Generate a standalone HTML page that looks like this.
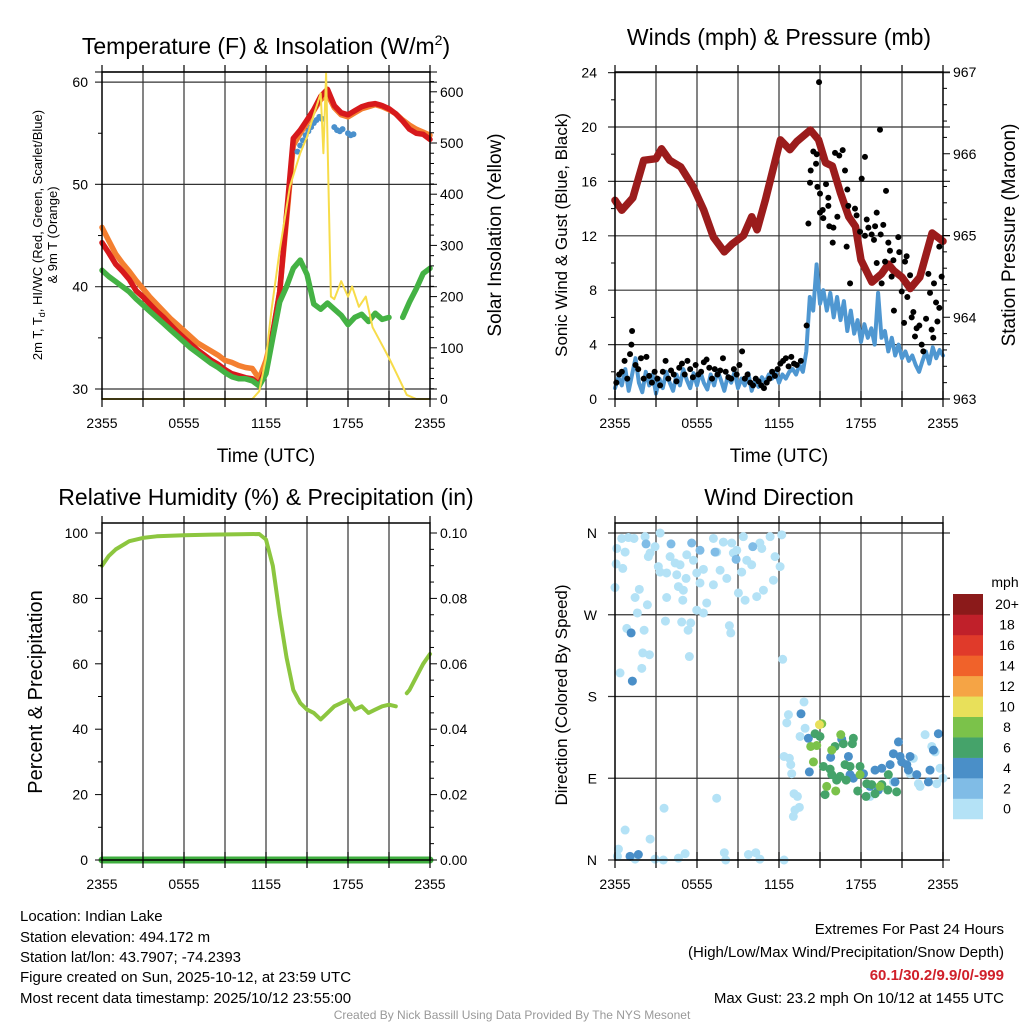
<!DOCTYPE html>
<html><head><meta charset="utf-8"><style>
html,body{margin:0;padding:0;background:#fff;}
svg{display:block;font-family:"Liberation Sans",Arial,sans-serif;}
</style></head><body>
<svg id="chart" width="1024" height="1024" viewBox="0 0 1024 1024" xmlns="http://www.w3.org/2000/svg">
<rect width="1024" height="1024" fill="#fff"/>
<g id="bg"></g>
<g id="marks"></g>
<g id="fg"></g>
<g font-size="23" text-anchor="middle" fill="#000">
<text x="266" y="54">Temperature (F) &amp; Insolation (W/m<tspan font-size="14" dy="-9">2</tspan><tspan dy="9">)</tspan></text>
<text x="779" y="45">Winds (mph) &amp; Pressure (mb)</text>
<text x="266" y="505">Relative Humidity (%) &amp; Precipitation (in)</text>
<text x="779" y="505">Wind Direction</text>
</g>
<g font-size="19" text-anchor="middle">
<text x="266" y="462">Time (UTC)</text>
<text x="779" y="462">Time (UTC)</text>
<text transform="translate(501,235) rotate(-90)">Solar Insolation (Yellow)</text>
<text transform="translate(1015,235) rotate(-90)">Station Pressure (Maroon)</text>
<text font-size="20" transform="translate(42,692) rotate(-90)">Percent &amp; Precipitation</text>
<text font-size="17" transform="translate(567,695) rotate(-90)">Direction (Colored By Speed)</text>
<text font-size="17" transform="translate(567,235) rotate(-90)">Sonic Wind &amp; Gust (Blue, Black)</text>
<text font-size="13" transform="translate(42,235) rotate(-90)">2m T, T<tspan font-size="9" dy="3">d</tspan><tspan dy="-3">, HI/WC (Red, Green, Scarlet/Blue)</tspan></text>
<text font-size="13" transform="translate(57,235) rotate(-90)">&amp; 9m T (Orange)</text>
</g>
<g font-size="15" fill="#000">
<text x="20" y="921">Location: Indian Lake</text>
<text x="20" y="942">Station elevation: 494.172 m</text>
<text x="20" y="962">Station lat/lon: 43.7907; -74.2393</text>
<text x="20" y="982">Figure created on Sun, 2025-10-12, at 23:59 UTC</text>
<text x="20" y="1003">Most recent data timestamp: 2025/10/12 23:55:00</text>
<g text-anchor="end">
<text x="1004" y="934">Extremes For Past 24 Hours</text>
<text x="1004" y="957">(High/Low/Max Wind/Precipitation/Snow Depth)</text>
<text x="1004" y="980" fill="#d0202a" font-weight="bold">60.1/30.2/9.9/0/-999</text>
<text x="1004" y="1003">Max Gust: 23.2 mph On 10/12 at 1455 UTC</text>
</g>
<text x="512" y="1019" font-size="12" fill="#999" text-anchor="middle">Created By Nick Bassill Using Data Provided By The NYS Mesonet</text>
</g>
</svg>
<script>
// ---------- data ----------
const timeLabels = ["2355","0555","1155","1755","2355"];
const tempTimes = [0,0.5,1,1.5,2,2.5,3,3.5,4,4.5,5,5.5,6,6.5,7,7.5,8,8.5,9,9.5,10,10.5,11,11.5,12,12.5,13,13.5,14,14.5,15,15.5,16,16.5,17,17.5,18,18.5,19,19.5,20,20.5,21,21.5,22,22.5,23,23.5,24];
const tempRed = [44.3,43.3,42.2,41.5,40.7,39.6,39.0,38.3,37.6,37.0,36.3,35.6,35.0,34.4,33.8,33.3,32.8,32.4,31.9,31.5,31.3,31.1,31.0,30.4,32.0,35.5,39.5,47.0,54.5,55.3,56.3,57.3,58.6,59.3,57.7,57.0,56.8,57.2,57.6,57.8,57.9,57.7,57.4,56.9,56.2,55.4,55.0,54.9,54.4];
const tempOrange = [45.8,44.5,43.2,42.3,41.5,40.6,39.8,39.0,38.3,37.6,36.9,36.3,35.7,35.1,34.5,34.1,33.7,33.3,32.8,32.6,32.3,32.1,32.0,31.0,32.8,35.5,39.5,46.5,53.8,55.0,56.0,57.2,58.3,58.8,57.5,56.8,56.6,57.0,57.4,57.6,57.8,57.6,57.3,56.9,56.3,55.8,55.4,55.1,54.8];
const dewGreen = [41.6,41.0,40.5,40.0,39.5,38.8,38.2,37.6,37.0,36.4,35.8,35.2,34.6,34.0,33.5,33.0,32.5,32.1,31.6,31.2,31.0,31.0,30.8,30.3,31.5,35.0,38.5,40.0,41.8,42.6,41.2,38.3,37.8,38.4,37.8,37.2,36.3,37.0,37.3,36.6,37.4,36.8,37.0,null,37.0,38.5,39.8,41.3,41.8];
const hiwcTimes = [14.3,14.5,14.7,14.9,15.1,15.3,15.5,15.7,15.9,16.1,17.0,17.2,17.4,17.6,18.0,18.2,18.4];
const hiwcBlue = [53.2,53.8,54.3,54.8,55.2,55.6,56.0,56.3,56.6,56.4,55.6,55.3,55.2,55.4,55.0,54.8,54.9];
const solarTimes = [0,11,11.5,12,12.4,13,13.75,14.5,15,15.5,16,16.2,16.4,16.6,16.75,17,17.5,18,18.3,18.8,19.3,19.8,20.5,21,21.5,22.3,23,24];
const solarVals = [0,0,15,80,174,290,415,480,512,555,597,480,636,377,200,195,230,200,220,180,200,140,105,80,53,8,0,0];
const windTimes = [];
for (let i = 0; i <= 96; i++) windTimes.push(i * 0.25);
const windMean = [0.8,1.6,1.0,2.2,0.6,1.8,3.0,1.2,0.5,2.0,1.0,1.8,
 0.4,1.5,0.8,2.0,1.2,0.6,1.8,1.0,2.2,1.4,0.8,1.9,
 1.0,2.0,1.2,0.7,1.8,1.0,2.1,1.4,0.6,1.7,1.2,2.0,
 0.8,1.5,1.0,1.9,0.6,1.4,0.9,1.6,1.2,1.8,1.5,2.0,
 1.2,1.8,1.5,2.0,2.2,1.8,2.5,2.0,
 3.5,7.5,6.5,9.9,7.0,8.0,6.5,7.8,
 6.0,7.5,5.8,7.2,5.0,6.5,4.8,5.8,
 4.2,5.5,4.5,5.2,4.0,7.8,4.5,5.0,
 3.5,4.5,3.2,4.0,3.0,3.5,2.8,3.2,
 2.5,2.0,2.8,3.5,2.6,3.8,3.0,3.6,3.2];
const gustTimes = [0.1,0.3,0.5,0.7,0.9,1.1,1.2,1.25,1.5,1.7,1.9,2.1,2.3,2.5,2.7,2.9,3.1,3.3,3.5,3.7,3.9,4.1,4.3,4.5,4.7,4.9,5.1,5.3,5.5,5.7,5.9,6.1,6.3,6.5,6.7,6.9,7.1,7.3,7.5,7.7,7.9,8.1,8.3,8.5,8.7,8.9,9.1,9.3,9.5,9.7,9.9,10.1,10.3,10.5,10.7,10.9,11.1,11.3,11.5,11.7,11.9,12.1,12.3,12.5,12.7,12.9,13.1,13.3,13.6,
 14.02,14.15,14.27,14.32,14.51,14.71,14.76,14.81,14.93,15.0,15.0,15.2,15.24,15.44,15.61,15.61,15.68,15.93,15.98,16.1,16.27,16.41,16.66,16.83,16.95,17.0,17.07,17.2,17.56,17.68,17.93,18.05,18.29,18.29,18.42,18.54,18.78,18.95,19.03,19.15,19.15,19.39,19.44,19.51,19.63,19.76,19.83,20.0,20.12,20.24,20.37,20.41,20.73,20.8,20.98,21.15,21.22,21.34,21.39,21.59,21.71,21.83,21.95,22.07,22.27,22.44,22.56,22.76,22.93,23.05,23.17,23.29,23.34,23.49,23.59,23.73,23.73,23.9];
const gustVals = [1.2,1.8,2.0,2.8,1.5,3.3,4.0,5.0,2.5,2.2,3.0,1.5,3.1,1.7,1.2,2.0,1.5,1.0,2.0,2.8,1.5,2.1,1.8,1.3,2.3,2.6,1.8,2.8,2.2,1.6,2.5,1.8,2.0,2.7,2.9,2.3,1.5,2.2,1.8,2.1,3.0,2.0,1.6,1.5,2.2,1.8,2.5,3.5,1.5,1.8,1.2,1.0,1.5,1.3,1.0,0.8,1.2,1.5,2.0,1.7,2.2,2.6,2.8,3.0,2.4,3.1,2.6,2.5,2.8,
 5.4,12.9,15.9,16.8,18.2,17.3,18.0,15.6,23.3,15.1,13.7,13.9,13.3,15.8,14.8,14.2,12.7,11.5,12.6,18.1,13.4,17.9,18.3,16.8,11.2,15.4,14.2,8.5,14.0,13.5,12.3,16.2,17.8,12.0,13.2,12.6,12.1,11.7,12.7,13.7,10.0,19.8,12.1,8.5,12.8,10.1,15.3,11.5,10.9,9.0,10.2,6.5,11.9,10.8,7.9,5.6,10.1,10.5,7.5,9.1,6.0,6.4,4.6,5.2,5.4,4.0,3.5,5.9,9.2,7.8,5.1,4.5,8.5,7.1,5.7,6.7,11.2,9.0];
const presTimes = [0,0.5,1.3,2.1,3.0,3.4,4.0,4.8,5.7,6.5,7.2,8.0,8.6,9.4,10.0,10.4,11.0,12.1,12.8,13.3,14.3,14.9,15.4,15.9,16.5,17.1,17.6,18.0,18.8,19.5,20.0,20.4,21.0,21.6,22.3,23.2,24];
const presVals = [965.43,965.31,965.46,965.92,965.94,966.06,965.92,965.84,965.6,965.31,964.98,964.80,964.9,965.0,965.23,965.07,965.43,966.17,966.05,966.15,966.29,966.17,965.89,965.85,965.52,965.23,965.11,964.70,964.43,964.53,964.65,964.57,964.49,964.35,964.49,965.03,964.93];
const rhTimes = [0,0.5,1,2,3,4,6,8,10,11.5,12,12.5,13,13.5,14,14.5,15,15.5,16,16.5,17,17.5,18,18.5,19,19.5,20,20.5,21,21.5,21.8,22.3,22.5,23,23.5,24];
const rhVals = [90,93,95,97.5,98.5,99,99.3,99.5,99.6,99.7,98,90,75,62,52,48,46,45,43,45,47,48,49,46,47,45,46,47,47.5,47,null,51,52,56,60,63];
const precipTimes = [0,24];
const precipVals = [0,0];
const wdTime = [0.13,0.49,0.98,1.39,2.2,3.3,0.74,0.08,0.57,0.0,1.47,1.78,2.37,1.64,2.57,2.93,2.44,3.17,3.3,3.78,4.03,4.4,4.76,4.52,5.25,5.2,5.74,5.98,6.22,6.47,7.2,7.93,8.54,7.44,7.69,8.18,8.66,8.91,9.27,9.39,9.64,10.0,10.6,10.74,11.35,11.71,12.08,12.2,11.59,10.86,10.37,9.52,9.03,7.2,6.71,5.98,6.47,4.64,5.0,3.78,4.96,3.69,4.88,5.54,5.35,8.37,8.47,0.86,2.13,2.03,2.52,1.96,0.37,5.44,12.27,0.74,2.57,0.25,2.93,3.54,4.64,5.13,7.44,3.59,8.0,8.1,9.76,10.3,10.6,12.37,1.47,0.18,
 2.27,4.1,5.61,6.22,7.32,8.86,10.08,1.18,1.27,1.1,1.71,
 13.83,12.69,12.57,13.54,13.91,12.37,12.76,12.86,12.93,13.1,13.35,13.17,13.05,13.49,21.83,22.2,22.32,22.69,23.18,23.42,23.54,23.78,24.0,18.66,20.37,21.59,
 13.61,14.15,14.22,15.78,16.59,17.08,18.18,19.03,19.52,20.13,20.49,20.74,20.98,21.47,21.59,22.08,23.05,23.3,23.66,22.93,20.37,20.86,21.35,17.2,17.44,18.66,19.27,
 14.64,15.0,15.25,15.74,16.1,16.71,16.22,16.91,16.83,17.44,17.37,17.93,17.76,18.37,18.42,19.03,19.52,19.96,20.61,20.0,18.78,17.2,15.37,16.47,15.86,
 15.13,14.32,14.76,14.52,15.86,16.52,16.15,15.49,19.39,17.93,
 14.96];
const wdDir = [343,354,355,354,356,360,339,326,321,300,289,298,281,272,338,345,334,323,317,316,334,327,325,314,336,310,330,316,305,320,354,350,349,339,319,310,338,341,317,356,330,325,349,343,356,334,323,358,308,297,290,286,294,303,283,275,272,301,297,289,286,263,262,261,253,258,250,255,253,228,226,211,206,224,221,33,23,12,1,0,2,7,68,57,8,0,6,8,1,0,1,4,
 348,348,349,341,339,331,345,250,197,4,6,
 174,160,151,136,145,114,112,105,95,73,70,55,48,58,112,84,81,138,125,119,84,101,90,70,86,95,
 161,134,97,113,133,114,95,99,101,105,86,130,108,99,114,94,99,121,139,86,117,114,105,94,90,81,77,
 139,136,103,100,125,128,88,88,105,134,128,103,76,70,84,73,83,77,75,94,83,103,72,92,94,
 150,125,126,108,121,138,76,81,81,94,
 149];
const wdSpd = [1,1,1,1,1,1,1,1,1,1,1,1,1,1,1,1,1,1,1,1,1,1,1,1,1,1,1,1,1,1,1,1,1,1,1,1,1,1,1,1,1,1,1,1,1,1,1,1,1,1,1,1,1,1,1,1,1,1,1,1,1,1,1,1,1,1,1,1,1,1,1,1,1,1,1,1,1,1,1,1,1,1,1,1,1,1,1,1,1,1,1,1,
 3,3,3,3,3,3,3,4.5,4.5,4.5,4.5,
 1,1,1,1,1,1,1,1,1,1,1,1,1,1,1,1,1,1,1,1,1,1,1,1,1,1,
 5,5,5,5,5,5,5,5,5,5,5,5,5,5,5,5,5,5,5,5,5,5,5,5,5,5,5,
 7,7,7,7,7,7,7,7,7,7,7,7,7,7,7,7,7,7,7,7,7,7,7,7,7,
 9,9,9,9,9,9,9,9,9,9,
 11];
const speedBins = ["0","2","4","6","8","10","12","14","16","18","20+"];
const speedColors = ["#b4e2f6","#80bce6","#4a8fc8","#45a36a","#7bc24a","#e8e05a","#f5a445","#f0622a","#e03a2a","#c0202a","#8b1a1a"];

// ---------- helpers ----------
const NS = "http://www.w3.org/2000/svg";
const bg = document.getElementById("bg"), marks = document.getElementById("marks"), fg = document.getElementById("fg");
function mk(tag, parent, attrs) {
  const e = document.createElementNS(NS, tag);
  for (const k in attrs) e.setAttribute(k, attrs[k]);
  parent.appendChild(e);
  return e;
}
function txt(parent, x, y, s, anchor, size) {
  const t = mk("text", parent, {x: x, y: y, "text-anchor": anchor, "font-size": size || 14});
  t.textContent = s;
  return t;
}
const P = {
  temp: {x0:102, x1:430, top:72, bot:399},
  wind: {x0:615, x1:943, top:72, bot:399},
  rh:   {x0:102, x1:430, top:523, bot:860},
  dir:  {x0:615, x1:943, top:523, bot:860}
};
function xs(p, t) { return p.x0 + t * (p.x1 - p.x0) / 24; }
const yTemp = v => 389 - (v - 30) * 10.23;
const ySolar = v => 399 - v * 0.512;
const yWind = v => 399 - v * 13.6;
const yPres = v => 399 - (v - 963) * 81.75;
const yRH = v => 860 - v * 3.27;
const yPrecip = v => 860 - v * 3270;
const yDir = v => 860 - v * 0.9083;

function pathFrom(p, times, vals, yf) {
  let d = "", pen = false;
  for (let i = 0; i < times.length; i++) {
    if (vals[i] === null) { pen = false; continue; }
    d += (pen ? "L" : "M") + xs(p, times[i]).toFixed(1) + "," + yf(vals[i]).toFixed(1);
    pen = true;
  }
  return d;
}

// ---------- frames, grids, time axes ----------
for (const key in P) {
  const p = P[key];
  const fr = mk("rect", fg, {x:p.x0, y:p.top, width:p.x1-p.x0, height:p.bot-p.top, fill:"none", stroke:"#000", "stroke-width":1.5});
  
  
  for (let h = 3; h < 24; h += 3) {
    const g = mk("line", bg, {x1:xs(p,h), x2:xs(p,h), y1:p.top, y2:p.bot, stroke:"#333", "stroke-width":1.2});
    
    
  }
  for (let h = 0; h <= 24; h += 3) {
    const tk = mk("line", fg, {x1:xs(p,h), x2:xs(p,h), y1:p.bot-8, y2:p.bot+8, stroke:"#000", "stroke-width":1.2});
    
    
    const tk2 = mk("line", fg, {x1:xs(p,h), x2:xs(p,h), y1:p.top, y2:p.top-7, stroke:"#000", "stroke-width":1.2});
    
    
  }
  timeLabels.forEach((s, i) => {
    const l = txt(fg, xs(p, i*6), p.bot + 29, s, "middle", 14);
    
    
  });
}
function hGrid(p, y, name) {
  const g = mk("line", bg, {x1:p.x0-7, x2:p.x1+7, y1:y, y2:y, stroke:"#333", "stroke-width":1.2});
  
  
}
function tickL(p, y, len, name) {
  const t = mk("line", fg, {x1:p.x0-len, x2:p.x0, y1:y, y2:y, stroke:"#000", "stroke-width":1});
  
  
}
function tickR(p, y, len, name) {
  const t = mk("line", fg, {x1:p.x1, x2:p.x1+len, y1:y, y2:y, stroke:"#000", "stroke-width":1});
  
  
}

hGrid(P.temp, 72, "temp-top-gridline");
[30,40,50,60].forEach(v => {
  hGrid(P.temp, yTemp(v), "temp-gridline");
  const l = txt(fg, 88, yTemp(v)+5, String(v), "end", 14);
  
  
});
[35,45,55].forEach(v => tickL(P.temp, yTemp(v), 4, "temp-minor-tick"));
for (let v = 0; v <= 620; v += 20) tickR(P.temp, ySolar(v), v % 100 === 0 ? 7 : 4, "solar-tick");
for (let v = 0; v <= 600; v += 100) {
  const l = txt(fg, 440, ySolar(v)+5, String(v), "start", 14);
  
  
}
for (let v = 0; v <= 24; v += 4) {
  hGrid(P.wind, yWind(v), "wind-gridline");
  const l = txt(fg, 597, yWind(v)+5, String(v), "end", 14);
  
  
}
for (let v = 2; v <= 22; v += 4) tickL(P.wind, yWind(v), 4, "wind-minor-tick");
for (let v = 963; v <= 967.001; v += 0.2) tickR(P.wind, yPres(v), Math.abs(v - Math.round(v)) < 0.01 ? 7 : 4, "pressure-tick");
[963,964,965,966,967].forEach(v => {
  const l = txt(fg, 953, yPres(v)+5, String(v), "start", 14);
  
  
});
for (let v = 0; v <= 100; v += 20) {
  tickL(P.rh, yRH(v), 7, "rh-tick");
  const l = txt(fg, 88, yRH(v)+5, String(v), "end", 14);
  
  
}
for (let v = 10; v <= 90; v += 20) tickL(P.rh, yRH(v), 4, "rh-minor-tick");
for (let v = 0; v <= 0.1001; v += 0.005) tickR(P.rh, yPrecip(v), Math.round(v*1000) % 20 === 0 ? 7 : 4, "precip-tick");
for (let v = 0; v <= 0.1001; v += 0.02) {
  const l = txt(fg, 440, yPrecip(v)+5, v.toFixed(2), "start", 14);
  
  
}
[["N",360],["W",270],["S",180],["E",90],["N",0]].forEach(([s, v]) => {
  hGrid(P.dir, yDir(v), "direction-gridline");
  const l = txt(fg, 597, yDir(v)+5, s, "end", 14);
  
  
});

// ---------- series ----------
function line(d, color, w, name, parent) {
  const e = mk("path", parent || marks, {d: d, fill:"none", stroke:color, "stroke-width":w, "stroke-linejoin":"round", "stroke-linecap":"round"});
  
  
  return e;
}
line(pathFrom(P.temp, tempTimes, tempOrange, yTemp), "#f47f30", 5.5, "temp-9m-orange-line");
line(pathFrom(P.temp, tempTimes, tempRed, yTemp), "#d7191c", 5.5, "temp-2m-red-line");
line(pathFrom(P.temp, tempTimes, dewGreen, yTemp), "#44b244", 5.5, "dewpoint-green-line");
hiwcTimes.forEach((t, i) => {
  const c = mk("circle", marks, {cx: xs(P.temp, t), cy: yTemp(hiwcBlue[i]), r: 3, fill:"#4a90cc"});
  
  
});
line(pathFrom(P.temp, solarTimes, solarVals, ySolar), "#f7dc4a", 2, "solar-insolation-line");

line(pathFrom(P.wind, presTimes, presVals, yPres), "#9b1c1c", 7.5, "pressure-maroon-line");
line(pathFrom(P.wind, windTimes, windMean, yWind), "#4f97d1", 4, "sonic-wind-blue-line");
gustTimes.forEach((t, i) => {
  const c = mk("circle", marks, {cx: xs(P.wind, t), cy: yWind(gustVals[i]), r: 3, fill:"#000"});
  
  
});

line(pathFrom(P.rh, rhTimes, rhVals, yRH), "#8cc63f", 4, "relative-humidity-line");
line(pathFrom(P.rh, precipTimes, precipVals, yPrecip), "#3fae3f", 7, "precipitation-line");

function spdColor(s) {
  let idx = Math.floor(s / 2);
  if (idx > 10) idx = 10;
  return speedColors[idx];
}
wdTime.forEach((t, i) => {
  const c = mk("circle", marks, {cx: xs(P.dir, t), cy: yDir(wdDir[i]), r: 4.5, fill: spdColor(wdSpd[i])});
  
  
});

const lg = mk("g", fg, {});


const mphT = txt(lg, 1005, 587, "mph", "middle", 14);


const binH = 20.45;
for (let i = 0; i < speedBins.length; i++) {
  const row = speedBins.length - 1 - i;
  const y = 594 + row * binH;
  const r = mk("rect", lg, {x:953, y:y, width:30, height:binH+0.3, fill:speedColors[i]});
  
  
  const l = txt(lg, 1007, y + binH/2 + 5, speedBins[i], "middle", 14);
  
  
}
</script>
</body></html>
